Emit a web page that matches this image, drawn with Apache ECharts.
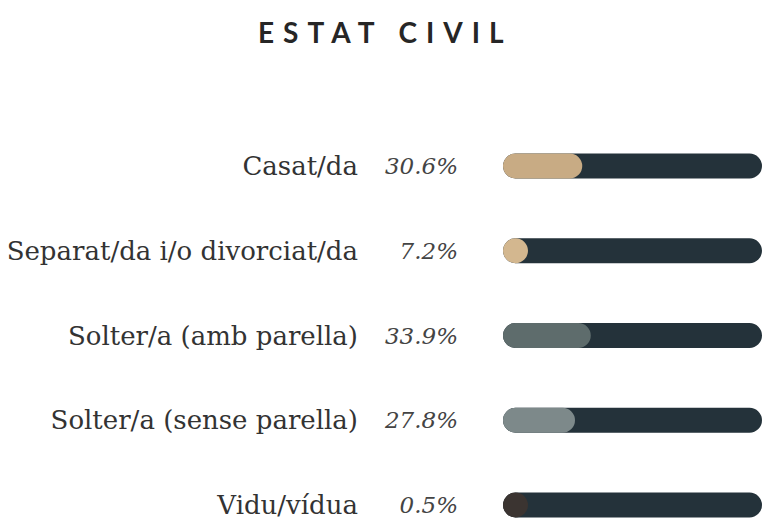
<!DOCTYPE html>
<html>
<head>
<meta charset="utf-8">
<script src="https://cdn.jsdelivr.net/npm/echarts@6/dist/echarts.min.js"></script>
<style>
  html, body { margin: 0; padding: 0; background: #fff; }
  #chart { width: 763px; height: 519px; }
  /* spaced-out title, svg renderer keeps it as real text */
  #chart text[style*="bold"] { letter-spacing: 9px; }
</style>
</head>
<body>
<div id="chart"></div>
<script>
var categories = ['Casat/da', 'Separat/da i/o divorciat/da', 'Solter/a (amb parella)', 'Solter/a (sense parella)', 'Vidu/vídua'];
var percents = [30.6, 7.2, 33.9, 27.8, 0.5];
var barColors = ['#c8ab84', '#d3b78f', '#5e6c6c', '#7d898a', '#3b3431'];
var trackValue = 100;

var chart = echarts.init(document.getElementById('chart'), null, { renderer: 'svg' });

var option = {
    backgroundColor: '#fff',
    title: {
        text: 'ESTAT CIVIL',
        left: 253,
        top: 13,
        textStyle: {
            fontFamily: 'Lato',
            fontWeight: 'bold',
            fontSize: 28,
            color: '#262626'
        }
    },
    grid: {
        left: 503,
        right: 1,
        top: 166,
        bottom: 14
    },
    xAxis: {
        type: 'value',
        min: 0,
        max: 100,
        show: false
    },
    yAxis: {
        type: 'category',
        inverse: true,
        boundaryGap: false,
        data: categories,
        axisLine: { show: false },
        axisTick: { show: false },
        splitLine: { show: false },
        axisLabel: {
            margin: 45,
            formatter: function (value, idx) {
                return '{name|' + value + '}{pct|' + percents[idx].toFixed(1) + '%}';
            },
            rich: {
                name: {
                    fontFamily: 'DejaVu Serif',
                    fontSize: 26,
                    color: '#333'
                },
                pct: {
                    fontFamily: 'DejaVu Serif',
                    fontStyle: 'italic',
                    fontSize: 23,
                    color: '#444',
                    width: 100,
                    align: 'right'
                }
            }
        }
    },
    series: [
        {
            name: 'track',
            type: 'bar',
            data: categories.map(function () { return trackValue; }),
            barWidth: 25,
            barGap: '-100%',
            silent: true,
            itemStyle: { color: '#24323a', borderRadius: 12.5 }
        },
        {
            name: 'Estat civil',
            type: 'bar',
            data: percents.map(function (v, i) {
                return { value: v, itemStyle: { color: barColors[i] } };
            }),
            barWidth: 25,
            barMinHeight: 25,
            itemStyle: { borderRadius: 12.5 }
        }
    ]
};

chart.setOption(option);
</script>
</body>
</html>
